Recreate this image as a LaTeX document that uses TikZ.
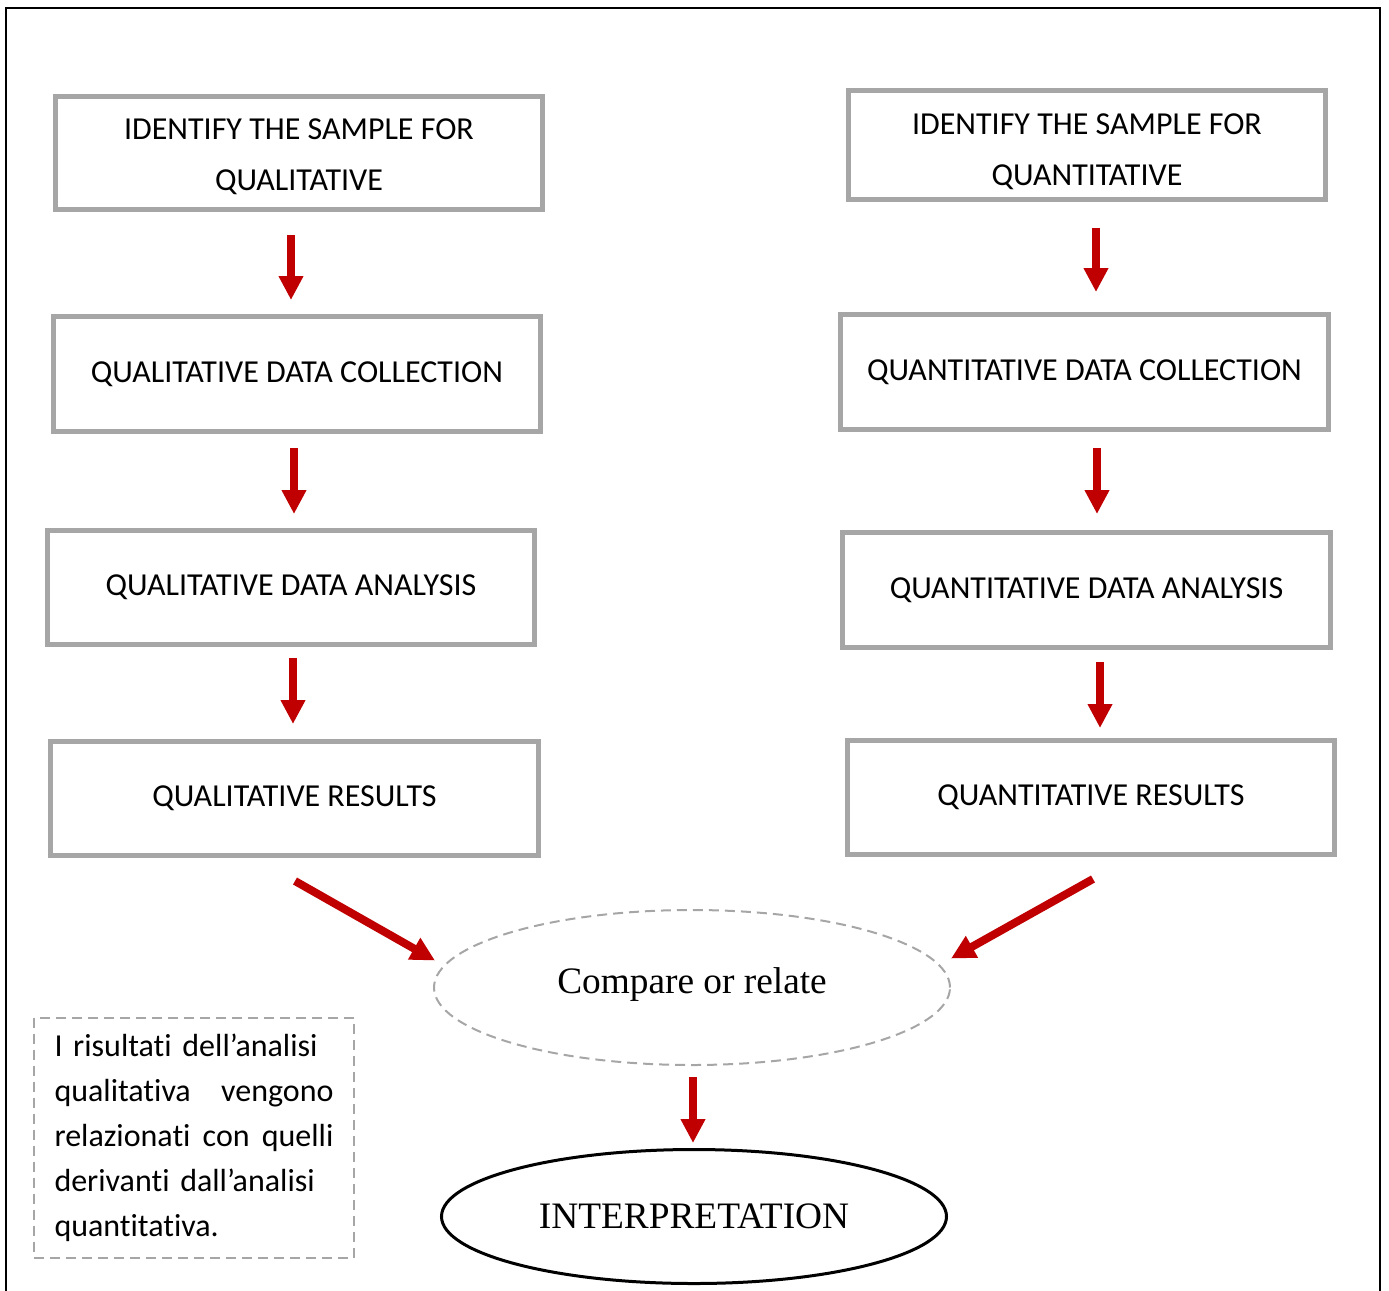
\documentclass[tikz,border=0pt]{standalone}
\usepackage{fontspec}
\setmainfont{Carlito}[Ligatures=NoCommon]
\newfontfamily\serifface{Liberation Serif}
\usetikzlibrary{arrows.meta,shapes.geometric,calc}
\newcommand{\pxl}{0.75pt}
\newcommand{\fullline}[1]{\leavevmode\hbox to 209.25pt{#1}}
\definecolor{boxgray}{HTML}{A6A6A6}
\definecolor{arrowred}{HTML}{C00000}
\begin{document}
\begin{tikzpicture}[x=0.75pt,y=-0.75pt,
  stepbox/.style={draw=boxgray, line width=3.75pt, align=center, inner sep=0pt,
    font=\fontsize{24}{38.25}\selectfont},
  flow/.style={draw=arrowred, line width=6pt,
    -{Triangle[width=17.5pt,length=18pt]}},
  notebox/.style={draw=boxgray, line width=1.5pt, dash pattern=on 7.5pt off 4.5pt,
    inner sep=0pt, align=left, font=\fontsize{24}{33.75}\selectfont},
  oval/.style={ellipse, inner sep=0pt, font=\serifface}
]
\useasboundingbox (0,0) rectangle (1389,1290);

% page frame
\draw[line width=1.5pt] (6,1300) -- (6,8) -- (1380,8) -- (1380,1300);

% qualitative strand
\node[stepbox, minimum width=487*\pxl, minimum height=113*\pxl] (L1) at (299,153)
  {\rule{0pt}{21.5pt}IDENTIFY THE SAMPLE FOR\\QUALITATIVE};
\node[stepbox, minimum width=487*\pxl, minimum height=115*\pxl] (L2) at (297,374)
  {QUALITATIVE DATA COLLECTION};
\node[stepbox, minimum width=487*\pxl, minimum height=114*\pxl] (L3) at (291,587.5)
  {QUALITATIVE DATA ANALYSIS};
\node[stepbox, minimum width=488*\pxl, minimum height=114*\pxl] (L4) at (294.5,798.5)
  {QUALITATIVE RESULTS};

% quantitative strand
\node[stepbox, minimum width=477*\pxl, minimum height=109*\pxl] (R1) at (1087,145)
  {\rule{0pt}{26pt}IDENTIFY THE SAMPLE FOR\\QUANTITATIVE};
\node[stepbox, minimum width=488*\pxl, minimum height=115*\pxl] (R2) at (1084.5,372)
  {QUANTITATIVE DATA COLLECTION};
\node[stepbox, minimum width=488*\pxl, minimum height=115*\pxl] (R3) at (1086.5,590)
  {QUANTITATIVE DATA ANALYSIS};
\node[stepbox, minimum width=487*\pxl, minimum height=114*\pxl] (R4) at (1091,797.5)
  {QUANTITATIVE RESULTS};

% merging ovals
\node[oval, draw=boxgray, line width=1.5pt, dash pattern=on 7.5pt off 4.5pt,
  minimum width=516*\pxl, minimum height=155*\pxl, text depth=10.5pt,
  font=\serifface\fontsize{28}{30}\selectfont] (C) at (692,987.5) {Compare or relate};
\node[oval, draw=black, line width=2.25pt,
  minimum width=505*\pxl, minimum height=134*\pxl,
  font=\serifface\fontsize{28}{30}\selectfont] (I) at (694,1216.5) {INTERPRETATION};

% side note, justified by hand
\node[notebox, minimum width=320*\pxl, minimum height=240*\pxl, text width=279*\pxl]
  (N) at (194,1138)
  {I risultati dell’analisi\\
   \fullline{qualitativa\hfill vengono}\\
   \fullline{relazionati\hfill con\hfill quelli}\\
   derivanti dall’analisi\\
   quantitativa.};

% arrows
\draw[flow] ($(L1.south)+(-8,23)$) -- ($(L2.north)+(-6,-14)$);
\draw[flow] ($(L2.south)+(-3,14)$) -- ($(L3.north)+(3,-14)$);
\draw[flow] ($(L3.south)+(2,11)$) -- ($(L4.north)+(-1.5,-15)$);
\draw[flow] ($(R1.south)+(9,26)$) -- ($(R2.north)+(11.5,-20)$);
\draw[flow] ($(R2.south)+(12.5,16)$) -- ($(R3.north)+(10.5,-16)$);
\draw[flow] ($(R3.south)+(13.5,12)$) -- ($(R4.north)+(9,-10)$);
\draw[flow] ($(L4.south)+(0.5,23)$) -- ($(C.west)+(2,-27)$);
\draw[flow] ($(R4.south)+(2,22)$) -- ($(C.east)+(0,-29)$);
\draw[flow] ($(C.south)+(1,11)$) -- ($(I.north)+(-1,-5)$);
\end{tikzpicture}
\end{document}
